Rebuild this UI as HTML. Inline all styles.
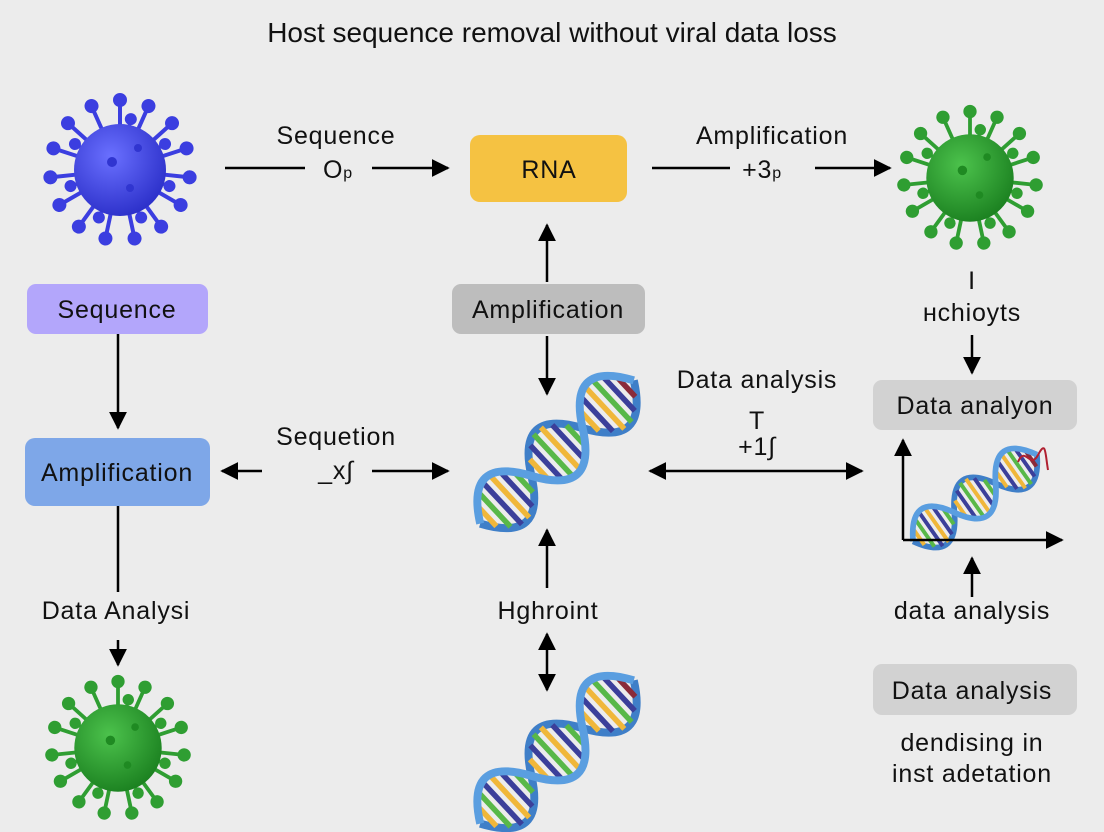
<!DOCTYPE html>
<html><head><meta charset="utf-8"><style>
html,body{margin:0;padding:0;background:#ececec;}
svg{display:block;font-family:"Liberation Sans",sans-serif;}
</style></head><body>
<svg width="1104" height="832" viewBox="0 0 1104 832" xmlns="http://www.w3.org/2000/svg">
<defs>
<marker id="ah" viewBox="0 0 10 10" refX="9" refY="5" markerWidth="18" markerHeight="18" markerUnits="userSpaceOnUse" orient="auto-start-reverse"><path d="M0,0 L10,5 L0,10 z" fill="#000"/></marker>
<radialGradient id="gb" cx="0.4" cy="0.35" r="0.7"><stop offset="0" stop-color="#6a70ff"/><stop offset="1" stop-color="#2a2ec8"/></radialGradient>
<radialGradient id="gg" cx="0.4" cy="0.35" r="0.7"><stop offset="0" stop-color="#4cc24c"/><stop offset="1" stop-color="#1a7f1f"/></radialGradient>
<g id="spikes">
<g id="sp"><line x1="0" y1="-40" x2="0" y2="-68" stroke-width="4"/><circle cx="0" cy="-70" r="6.5"/></g>
<use href="#sp" transform="rotate(24)"/><use href="#sp" transform="rotate(48)"/><use href="#sp" transform="rotate(72)"/><use href="#sp" transform="rotate(96)"/><use href="#sp" transform="rotate(120)"/><use href="#sp" transform="rotate(144)"/><use href="#sp" transform="rotate(168)"/><use href="#sp" transform="rotate(192)"/><use href="#sp" transform="rotate(216)"/><use href="#sp" transform="rotate(240)"/><use href="#sp" transform="rotate(264)"/><use href="#sp" transform="rotate(288)"/><use href="#sp" transform="rotate(312)"/><use href="#sp" transform="rotate(336)"/>
<g transform="rotate(12)"><g id="sp2"><line x1="0" y1="-40" x2="0" y2="-50" stroke-width="3.5"/><circle cx="0" cy="-52" r="5.5"/></g>
<use href="#sp2" transform="rotate(48)"/><use href="#sp2" transform="rotate(96)"/><use href="#sp2" transform="rotate(144)"/><use href="#sp2" transform="rotate(192)"/><use href="#sp2" transform="rotate(240)"/><use href="#sp2" transform="rotate(288)"/></g>
</g>
<g id="vb"><g fill="#3b3ee0" stroke="#3b3ee0"><use href="#spikes"/></g><circle r="46" fill="url(#gb)"/><circle cx="-8" cy="-8" r="5" fill="#3035d0"/><circle cx="18" cy="-22" r="4" fill="#3035d0"/><circle cx="10" cy="18" r="4" fill="#3035d0"/></g>
<g id="vg"><g fill="#2f9e32" stroke="#2f9e32"><use href="#spikes"/></g><circle r="46" fill="url(#gg)"/><circle cx="-8" cy="-8" r="5" fill="#1f8a22"/><circle cx="18" cy="-22" r="4" fill="#1f8a22"/><circle cx="10" cy="18" r="4" fill="#1f8a22"/></g>
<g id="dna">
<path d="M-105,0 C-81.7,40 -58.3,40 -35,0 C-11.7,-40 11.7,-40 35,0 C58.3,40 81.7,40 105,0" fill="none" stroke="#3f7fc8" stroke-width="8"/>
<g stroke-width="5.5">
<line x1="-95" y1="-13" x2="-95" y2="13" stroke="#f0b73a"/>
<line x1="-85" y1="-23" x2="-85" y2="23" stroke="#58b848"/>
<line x1="-75" y1="-29" x2="-75" y2="29" stroke="#3b3f9a"/>
<line x1="-65" y1="-29" x2="-65" y2="29" stroke="#f0b73a"/>
<line x1="-55" y1="-23" x2="-55" y2="23" stroke="#3b3f9a"/>
<line x1="-45" y1="-13" x2="-45" y2="13" stroke="#58b848"/>
<line x1="-25" y1="-13" x2="-25" y2="13" stroke="#f0b73a"/>
<line x1="-15" y1="-23" x2="-15" y2="23" stroke="#3b3f9a"/>
<line x1="-5" y1="-29" x2="-5" y2="29" stroke="#58b848"/>
<line x1="5" y1="-29" x2="5" y2="29" stroke="#f0b73a"/>
<line x1="15" y1="-23" x2="15" y2="23" stroke="#3b3f9a"/>
<line x1="25" y1="-13" x2="25" y2="13" stroke="#58b848"/>
<line x1="45" y1="-13" x2="45" y2="13" stroke="#f0b73a"/>
<line x1="55" y1="-23" x2="55" y2="23" stroke="#3b3f9a"/>
<line x1="65" y1="-29" x2="65" y2="29" stroke="#f0b73a"/>
<line x1="75" y1="-29" x2="75" y2="29" stroke="#58b848"/>
<line x1="85" y1="-23" x2="85" y2="23" stroke="#3b3f9a"/>
<line x1="95" y1="-13" x2="95" y2="13" stroke="#8a2b3a"/>
</g>
<path d="M-105,0 C-81.7,-40 -58.3,-40 -35,0 C-11.7,40 11.7,40 35,0 C58.3,-40 81.7,-40 105,0" fill="none" stroke="#5a9ee0" stroke-width="8"/>
</g>
</defs>

<text x="552" y="42" font-size="28" text-anchor="middle" fill="#111">Host sequence removal without viral data loss</text>

<use href="#vb" transform="translate(120,170)"/>
<use href="#vg" transform="translate(970,178) scale(0.95)"/>
<use href="#vg" transform="translate(118,748) scale(0.95)"/>

<use href="#dna" transform="translate(557,452) rotate(-43) scale(1)"/>
<use href="#dna" transform="translate(557,752) rotate(-43) scale(1)"/>
<use href="#dna" transform="translate(975,498) rotate(-35) scale(0.72)"/>

<g font-size="25" letter-spacing="0.8" text-anchor="middle" fill="#111">
<rect x="470" y="135" width="157" height="67" rx="10" fill="#f5c242"/><text x="549" y="178">RNA</text>
<rect x="27" y="284" width="181" height="50" rx="9" fill="#b3a6fb"/><text x="117" y="318">Sequence</text>
<rect x="452" y="284" width="193" height="50" rx="9" fill="#bdbdbd"/><text x="548" y="318">Amplification</text>
<rect x="25" y="438" width="185" height="68" rx="10" fill="#7ea7e8"/><text x="117" y="481">Amplification</text>
<rect x="873" y="380" width="204" height="50" rx="9" fill="#d2d2d2"/><text x="975" y="414">Data analyon</text>
<rect x="873" y="664" width="204" height="51" rx="9" fill="#d2d2d2"/><text x="972" y="699">Data analysis</text>

<text x="336" y="144">Sequence</text><text x="338" y="178">O<tspan font-size="16">p</tspan></text>
<text x="772" y="144">Amplification</text><text x="762" y="178">+3<tspan font-size="16">p</tspan></text>
<text x="336" y="445">Sequetion</text><text x="336" y="479">_x∫</text>
<text x="757" y="388">Data analysis</text><text x="757" y="429">T</text><text x="757" y="455">+1∫</text>
<text x="116" y="619">Data Analysi</text>
<text x="548" y="619">Hghroint</text>
<text x="972" y="289">I</text><text x="972" y="321">ʜchioyts</text>
<text x="972" y="619">data analysis</text>
<text x="972" y="751">dendising in</text><text x="972" y="782">inst adetation</text>
</g>

<g stroke="#000" stroke-width="2.5" fill="none">
<line x1="225" y1="168" x2="305" y2="168"/><line x1="372" y1="168" x2="448" y2="168" marker-end="url(#ah)"/>
<line x1="652" y1="168" x2="730" y2="168"/><line x1="815" y1="168" x2="890" y2="168" marker-end="url(#ah)"/>
<line x1="547" y1="282" x2="547" y2="225" marker-end="url(#ah)"/>
<line x1="547" y1="336" x2="547" y2="394" marker-end="url(#ah)"/>
<line x1="118" y1="334" x2="118" y2="428" marker-end="url(#ah)"/>
<line x1="118" y1="506" x2="118" y2="592"/>
<line x1="118" y1="640" x2="118" y2="665" marker-end="url(#ah)"/>
<line x1="222" y1="471" x2="262" y2="471" marker-start="url(#ah)"/>
<line x1="372" y1="471" x2="448" y2="471" marker-end="url(#ah)"/>
<line x1="650" y1="471" x2="862" y2="471" marker-start="url(#ah)" marker-end="url(#ah)"/>
<line x1="547" y1="588" x2="547" y2="530" marker-end="url(#ah)"/>
<line x1="547" y1="634" x2="547" y2="690" marker-start="url(#ah)" marker-end="url(#ah)"/>
<line x1="972" y1="335" x2="972" y2="373" marker-end="url(#ah)"/>
<line x1="903" y1="540" x2="903" y2="440" marker-end="url(#ah)"/>
<line x1="903" y1="540" x2="1062" y2="540" marker-end="url(#ah)"/>
<line x1="972" y1="597" x2="972" y2="558" marker-end="url(#ah)"/>
</g>
<path d="M1018,462 C1025,445 1030,470 1038,455 S1045,452 1048,470" fill="none" stroke="#b02030" stroke-width="2"/>
</svg>
</body></html>
